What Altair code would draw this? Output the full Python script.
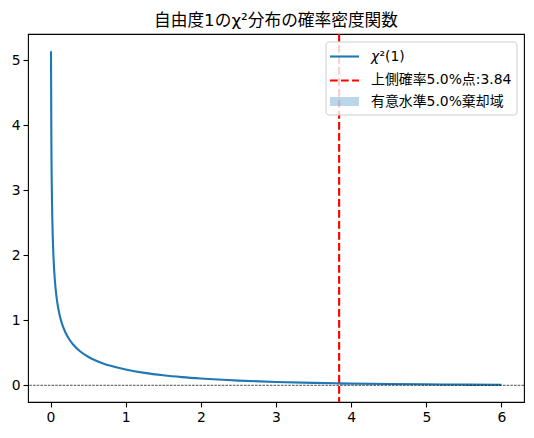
import altair as alt
import pandas as pd

# values
x_vals = [0.006, 0.01, 0.02, 0.03, 0.04, 0.05, 0.06, 0.07, 0.08, 0.1, 0.12, 0.15, 0.2, 0.25,
          0.3, 0.4, 0.5, 0.6, 0.7, 0.8, 0.9, 1.0, 1.25, 1.5, 1.75, 2.0, 2.5, 3.0, 3.5,
          3.84, 4.0, 4.5, 5.0, 5.5, 6.0]
y_vals = [5.135, 3.969, 2.793, 2.269, 1.955, 1.740, 1.580, 1.456, 1.355, 1.200, 1.085, 0.956,
          0.807, 0.704, 0.627, 0.516, 0.439, 0.382, 0.336, 0.299, 0.268, 0.242, 0.191, 0.154,
          0.126, 0.104, 0.072, 0.051, 0.037, 0.030, 0.027, 0.020, 0.015, 0.011, 0.008]
crit = 3.84
region_x = [3.84, 4.0, 4.5, 5.0, 5.5, 6.0]
region_y = [0.030, 0.027, 0.020, 0.015, 0.011, 0.008]
x_ticks = [0, 1, 2, 3, 4, 5, 6]
y_ticks = [0, 1, 2, 3, 4, 5]
legend_labels = ["χ²(1)", "上側確率5.0%点:3.84", "有意水準5.0%棄却域"]
title_text = "自由度1のχ²分布の確率密度関数"

curve = pd.DataFrame({"x": x_vals, "y": y_vals})
region = pd.DataFrame({"x": region_x, "y": region_y, "y0": [0.0] * len(region_x)})

JP = "DejaVu Sans, Noto Sans CJK JP, sans-serif"
BLUE = "#1f77b4"

xs = alt.Scale(domain=[-0.3, 6.3], nice=False, zero=False)
ys = alt.Scale(domain=[-0.257, 5.4], nice=False, zero=False)
xaxis = alt.Axis(values=x_ticks, title=None, grid=False, format="d", labelFlush=False)
yaxis = alt.Axis(values=y_ticks, title=None, grid=False, format="d", labelFlush=False)

area = alt.Chart(region).mark_area(color=BLUE, opacity=0.3).encode(
    x=alt.X("x:Q", scale=xs, axis=xaxis),
    y=alt.Y("y:Q", scale=ys, axis=yaxis),
    y2="y0:Q",
)
line = alt.Chart(curve).mark_line(color=BLUE, strokeWidth=2.1, interpolate="monotone", clip=True).encode(
    x=alt.X("x:Q", scale=xs), y=alt.Y("y:Q", scale=ys)
)
hline = alt.Chart(pd.DataFrame({"y": [0.0]})).mark_rule(
    color="black", strokeWidth=0.7, strokeDash=[2.6, 1.1]
).encode(y=alt.Y("y:Q", scale=ys))
vline = alt.Chart(pd.DataFrame({"x": [crit]})).mark_rule(
    color="red", strokeWidth=2.1, strokeDash=[7.7, 3.3]
).encode(x=alt.X("x:Q", scale=xs))

one = pd.DataFrame({"k": [0]})
lg_box = alt.Chart(one).mark_rect(
    fill="white", fillOpacity=0.8, stroke="#cccccc", strokeWidth=1, cornerRadius=3
).encode(x=alt.value(298), x2=alt.value(489), y=alt.value(8), y2=alt.value(81))
lg_line = alt.Chart(one).mark_rule(color=BLUE, strokeWidth=2.1).encode(
    x=alt.value(302), x2=alt.value(331), y=alt.value(22.5)
)
lg_dash = alt.Chart(one).mark_rule(color="red", strokeWidth=2.1, strokeDash=[7.7, 3.3]).encode(
    x=alt.value(302), x2=alt.value(331), y=alt.value(46.5)
)
lg_patch = alt.Chart(one).mark_rect(fill=BLUE, fillOpacity=0.3).encode(
    x=alt.value(302), x2=alt.value(331), y=alt.value(63), y2=alt.value(72)
)
row_y = [22.5, 45.5, 67.5]
# first label: italic chi followed by the rest
pieces = [
    (legend_labels[0][:1], 343, row_y[0], "italic"),
    (legend_labels[0][1:], 351.5, row_y[0], "normal"),
    (legend_labels[1], 343, row_y[1], "normal"),
    (legend_labels[2], 343, row_y[2], "normal"),
]
lg_texts = [
    alt.Chart(one).mark_text(
        align="left", baseline="middle", font=JP, fontSize=13.9, color="black", fontStyle=st
    ).encode(x=alt.value(px), y=alt.value(ry), text=alt.value(lab))
    for lab, px, ry, st in pieces
]

chart = alt.layer(
    area, line, hline, vline, lg_box, lg_line, lg_dash, lg_patch, *lg_texts
).properties(
    width=496,
    height=368,
    padding={"left": 3, "top": 5, "right": 0, "bottom": 4},
    title=alt.TitleParams(
        title_text, font=JP, fontSize=16.7, fontWeight="normal", color="black",
        anchor="middle", offset=3,
    ),
).configure_view(stroke="black", strokeWidth=1.1).configure_axis(
    domain=False, ticks=True, tickColor="black", tickSize=5, tickWidth=1.1,
    labelColor="black", labelFont="DejaVu Sans", labelFontSize=13.9, labelPadding=3,
)

chart.save("out.html", embed_options={"renderer": "svg", "actions": False})
